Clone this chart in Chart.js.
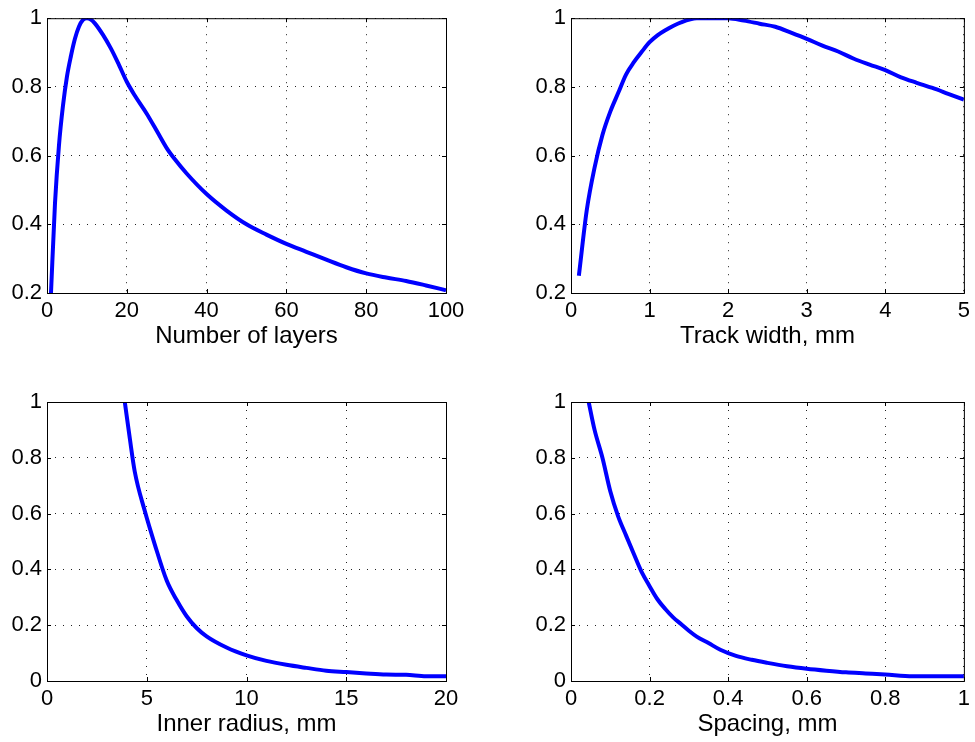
<!DOCTYPE html>
<html>
<head>
<meta charset="utf-8">
<script src="https://cdn.jsdelivr.net/npm/chart.js@4.4.1/dist/chart.umd.min.js"></script>
<style>
  html, body { margin: 0; padding: 0; background: #fff; }
  body { width: 975px; height: 742px; position: relative; overflow: hidden; }
  .plot { position: absolute; }
</style>
</head>
<body>
<div class="plot" style="left:0;top:0"><canvas id="layersChart" width="475" height="353"></canvas></div>
<div class="plot" style="left:524px;top:0"><canvas id="widthChart" width="451" height="353"></canvas></div>
<div class="plot" style="left:0;top:371px"><canvas id="radiusChart" width="475" height="370"></canvas></div>
<div class="plot" style="left:524px;top:371px"><canvas id="spacingChart" width="451" height="370"></canvas></div>
<script>
// Number of layers
const layersX = [1, 2, 3, 4, 5, 6, 7, 8, 9, 10, 11, 12, 14, 16, 18, 20, 22, 25, 28, 30, 32, 35, 40, 45, 50, 55, 60, 65, 70, 75, 80, 85, 90, 95, 100];
const layersY = [0.2, 0.46, 0.63, 0.745, 0.83, 0.89, 0.94, 0.975, 0.995, 1.0, 0.996, 0.985, 0.952, 0.912, 0.865, 0.815, 0.775, 0.722, 0.662, 0.622, 0.59, 0.548, 0.488, 0.44, 0.4, 0.37, 0.343, 0.32, 0.297, 0.275, 0.257, 0.245, 0.235, 0.222, 0.208];

// Track width, mm
const widthX = [0.1, 0.2, 0.3, 0.4, 0.5, 0.6, 0.7, 0.8, 0.9, 1.0, 1.1, 1.2, 1.4, 1.6, 1.8, 2.0, 2.2, 2.4, 2.6, 2.8, 3.0, 3.2, 3.4, 3.6, 3.8, 4.0, 4.2, 4.4, 4.6, 4.8, 5.0];
const widthY = [0.25, 0.44, 0.565, 0.66, 0.728, 0.782, 0.836, 0.872, 0.902, 0.93, 0.95, 0.965, 0.988, 1.0, 1.0, 1.0, 0.993, 0.984, 0.975, 0.958, 0.94, 0.92, 0.903, 0.882, 0.865, 0.849, 0.828, 0.812, 0.797, 0.78, 0.763];

// Inner radius, mm
const radiusX = [3.9, 4.15, 4.4, 4.9, 5.4, 6, 6.5, 7, 7.5, 8, 9, 10, 11, 12, 13, 14, 15, 16, 17, 18, 19, 20];
const radiusY = [1.0, 0.87, 0.75, 0.61, 0.49, 0.36, 0.29, 0.232, 0.19, 0.16, 0.12, 0.092, 0.072, 0.058, 0.047, 0.037, 0.032, 0.027, 0.023, 0.022, 0.017, 0.017];

// Spacing, mm
const spacingX = [0.045, 0.06, 0.08, 0.1, 0.12, 0.14, 0.16, 0.18, 0.2, 0.22, 0.24, 0.26, 0.28, 0.3, 0.32, 0.35, 0.38, 0.42, 0.46, 0.5, 0.55, 0.6, 0.65, 0.7, 0.75, 0.8, 0.87, 1.0];
const spacingY = [1.0, 0.9, 0.8, 0.68, 0.59, 0.522, 0.455, 0.39, 0.34, 0.293, 0.258, 0.228, 0.204, 0.18, 0.159, 0.136, 0.112, 0.09, 0.076, 0.065, 0.053, 0.044, 0.037, 0.031, 0.027, 0.023, 0.017, 0.017];

// Tick labels
const layersTicks = [0, 20, 40, 60, 80, 100];
const widthTicks = [0, 1, 2, 3, 4, 5];
const radiusTicks = [0, 5, 10, 15, 20];
const spacingTicks = [0, 0.2, 0.4, 0.6, 0.8, 1];
const topYTicks = [0.2, 0.4, 0.6, 0.8, 1];
const bottomYTicks = [0, 0.2, 0.4, 0.6, 0.8, 1];

Chart.defaults.font.family = "'Liberation Sans', Arial, Helvetica, sans-serif";
Chart.defaults.font.size = 22;
Chart.defaults.color = '#000';

// MATLAB-like box with inward tick marks
const boxPlugin = {
  id: 'box',
  afterDraw(chart) {
    const { ctx, chartArea: a, scales: { x, y } } = chart;
    const len = 4;
    ctx.save();
    ctx.strokeStyle = '#000';
    ctx.lineWidth = 1;
    ctx.strokeRect(a.left + 0.5, a.top + 0.5, a.right - a.left, a.bottom - a.top);
    ctx.beginPath();
    x.ticks.forEach(t => {
      const px = Math.round(x.getPixelForValue(t.value)) + 0.5;
      ctx.moveTo(px, a.bottom); ctx.lineTo(px, a.bottom - len);
      ctx.moveTo(px, a.top); ctx.lineTo(px, a.top + len);
    });
    y.ticks.forEach(t => {
      const py = Math.round(y.getPixelForValue(t.value)) + 0.5;
      ctx.moveTo(a.left, py); ctx.lineTo(a.left + len, py);
      ctx.moveTo(a.right, py); ctx.lineTo(a.right - len, py);
    });
    ctx.stroke();
    ctx.restore();
  }
};

function makePlot(id, xs, ys, xTicks, yTicks, title, padTop, padRight) {
  const points = xs.map((v, i) => ({ x: v, y: ys[i] }));
  const grid = { color: '#222', lineWidth: 1, drawTicks: false };
  const border = { display: false, dash: [1, 7] };
  new Chart(document.getElementById(id), {
    type: 'line',
    data: {
      datasets: [{
        data: points,
        borderColor: '#0000ff',
        borderWidth: 4,
        pointRadius: 0,
        cubicInterpolationMode: 'monotone',
        fill: false
      }]
    },
    options: {
      responsive: false,
      animation: false,
      layout: { padding: { top: padTop, right: padRight, left: 0, bottom: 0 } },
      plugins: { legend: { display: false }, tooltip: { enabled: false } },
      scales: {
        x: {
          type: 'linear',
          min: xTicks[0],
          max: xTicks[xTicks.length - 1],
          afterBuildTicks: s => { s.ticks = xTicks.map(v => ({ value: v })); },
          afterFit: s => { s.height = 60; },
          ticks: { padding: 5, maxRotation: 0, autoSkip: false, callback: v => String(v) },
          grid: grid,
          border: border,
          title: { display: true, text: title, font: { size: 24 }, padding: { top: 0, bottom: 2 } }
        },
        y: {
          type: 'linear',
          min: yTicks[0],
          max: yTicks[yTicks.length - 1],
          afterBuildTicks: s => { s.ticks = yTicks.map(v => ({ value: v })); },
          afterFit: s => { s.width = 47; },
          ticks: { padding: 5, autoSkip: false, callback: v => String(v) },
          grid: grid,
          border: border
        }
      }
    },
    plugins: [boxPlugin]
  });
}

makePlot('layersChart', layersX, layersY, layersTicks, topYTicks, 'Number of layers', 16, 29);
makePlot('widthChart', widthX, widthY, widthTicks, topYTicks, 'Track width, mm', 16, 6);
makePlot('radiusChart', radiusX, radiusY, radiusTicks, bottomYTicks, 'Inner radius, mm', 31, 29);
makePlot('spacingChart', spacingX, spacingY, spacingTicks, bottomYTicks, 'Spacing, mm', 31, 6);
</script>
</body>
</html>
